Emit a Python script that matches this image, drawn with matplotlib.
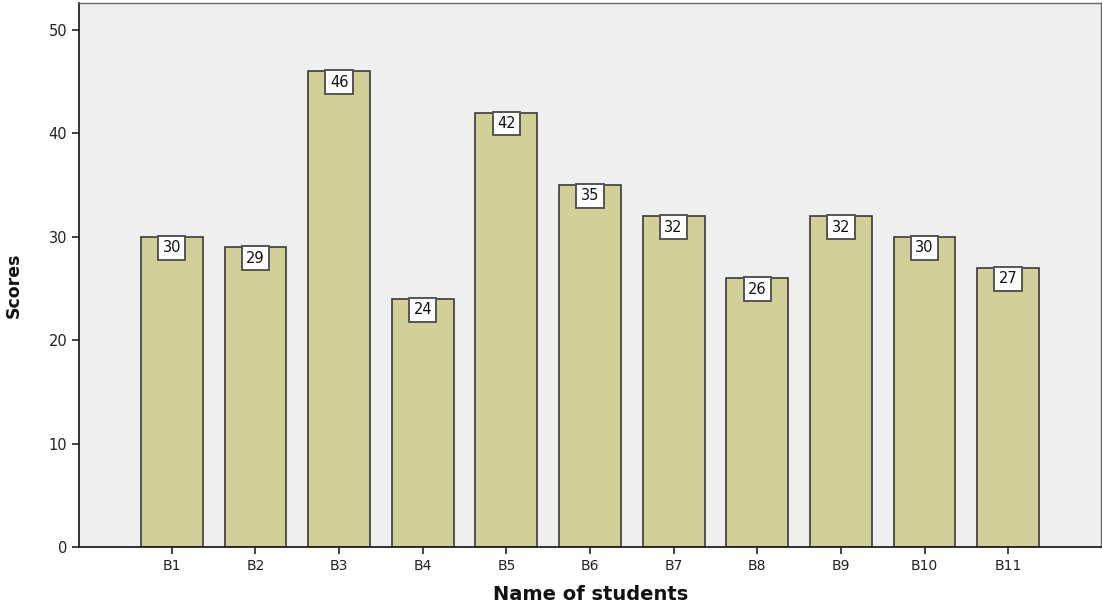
import numpy as np
import matplotlib
matplotlib.use('Agg')
import matplotlib.pyplot as plt

#student scores
students = ['B1', 'B2', 'B3', 'B4', 'B5', 'B6', 'B7', 'B8', 'B9', 'B10', 'B11']
scores = [30, 29, 46, 24, 42, 35, 32, 26, 32, 30, 27]
y_ticks = [0, 10, 20, 30, 40, 50]

fig = plt.figure(figsize=(11.02, 6.03), dpi=100)
ax = fig.add_axes([79 / 1102, 56 / 603, 1022 / 1102, 544 / 603])
ax.set_facecolor('#efefef')

x = np.arange(len(students))
bars = ax.bar(x, scores, width=0.74, color='#d3cf98', edgecolor='#3a3a3a', linewidth=1.2, zorder=2)

#value labels in white boxes hanging from the bar tops
for xi, val in zip(x, scores):
    ax.annotate(f'{val}', xy=(xi, val), xytext=(0, -2.5), textcoords='offset points',
                ha='center', va='top', fontsize=10.5, color='#111111', zorder=3,
                bbox=dict(boxstyle='square,pad=0.3', facecolor='white', edgecolor='#555555', linewidth=1.4))

ax.set_xlim(-1.11, len(students) - 1 + 1.11)
ax.set_ylim(0, 52.6)
ax.set_xticks(x)
ax.set_xticklabels(students, fontsize=10)
ax.set_yticks(y_ticks)
ax.set_yticklabels([str(t) for t in y_ticks], fontsize=10.5)
ax.tick_params(axis='both', length=5, width=1.2, color='#222222', labelcolor='#222222')

for side in ['left', 'bottom']:
    ax.spines[side].set_color('#222222')
    ax.spines[side].set_linewidth(1.3)
for side in ['top', 'right']:
    ax.spines[side].set_color('#666666')
    ax.spines[side].set_linewidth(1.0)

#axis titles placed by hand so they fit inside the figure
fig.text(591 / 1102, 1 - 594 / 603, 'Name of students', ha='center', va='center',
         fontsize=14, fontweight='bold', color='#111111')
fig.text(14 / 1102, 1 - 285 / 603, 'Scores', ha='center', va='center', rotation=90,
         fontsize=12.5, fontweight='bold', color='#111111')

fig.savefig('out.png', dpi=100)
